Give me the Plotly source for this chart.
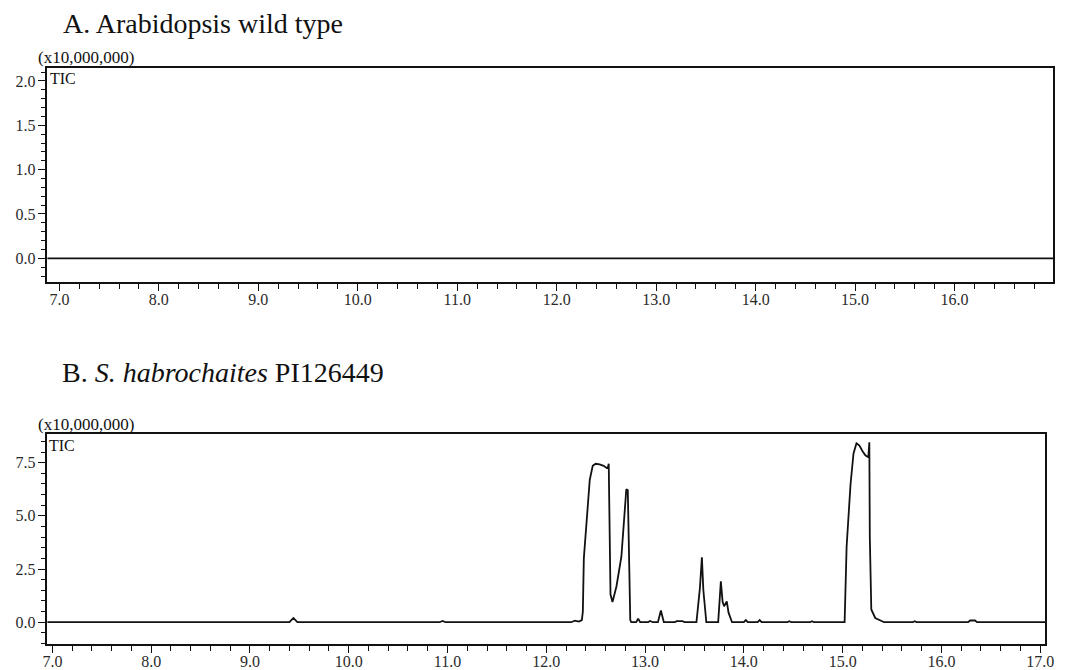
import plotly.graph_objects as go

W, H = 1066, 670

# Panel A: wild type TIC trace (flat baseline)
wt_rt = [6.8, 17.1]
wt_tic = [0.0, 0.0]

# Panel B: S. habrochaites PI126449 TIC trace (retention time, min; intensity x1e7)
sh_rt = [
    6.8, 9.40, 9.44, 9.48, 10.92, 10.95, 10.98,
    12.25, 12.29, 12.33, 12.36, 12.37, 12.38, 12.41, 12.44, 12.47, 12.50,
    12.54, 12.58, 12.61, 12.625, 12.632, 12.64, 12.65, 12.67, 12.71, 12.76,
    12.79, 12.81, 12.825, 12.84, 12.85, 12.86,
    12.91, 12.93, 12.95, 13.03, 13.05, 13.08, 13.13, 13.16, 13.19,
    13.30, 13.32, 13.38, 13.40,
    13.52, 13.555, 13.575, 13.59, 13.62,
    13.74, 13.767, 13.785, 13.80, 13.827, 13.845, 13.88,
    14.00, 14.02, 14.04, 14.14, 14.16, 14.18, 14.44, 14.46, 14.48,
    14.67, 14.69, 14.71,
    15.02, 15.04, 15.08, 15.11, 15.14, 15.17, 15.20, 15.23, 15.26, 15.27,
    15.275, 15.285, 15.29, 15.33, 15.39, 15.42,
    15.71, 15.73, 15.75, 16.27, 16.29, 16.34, 16.36, 17.1,
]
sh_tic = [
    0.0, 0.0, 0.2, 0.0, 0.0, 0.06, 0.0,
    0.0, 0.07, 0.03, 0.1, 0.5, 3.0, 5.1, 6.7, 7.35, 7.45,
    7.42, 7.35, 7.25, 7.3, 7.45, 4.0, 1.3, 0.95, 1.68, 3.08,
    5.1, 6.25, 6.2, 3.0, 0.1, 0.0,
    0.0, 0.17, 0.0, 0.0, 0.06, 0.0, 0.0, 0.55, 0.0,
    0.0, 0.05, 0.05, 0.0,
    0.0, 1.6, 3.05, 1.5, 0.0,
    0.0, 1.92, 0.95, 0.75, 0.98, 0.45, 0.0,
    0.0, 0.1, 0.0, 0.0, 0.1, 0.0, 0.0, 0.05, 0.0,
    0.0, 0.05, 0.0,
    0.0, 3.55, 6.5, 7.93, 8.41, 8.3, 8.05, 7.85, 7.75, 8.46,
    4.0, 1.0, 0.6, 0.2, 0.05, 0.0,
    0.0, 0.05, 0.0, 0.0, 0.08, 0.08, 0.0, 0.0,
]

FONT = "Liberation Serif"
INK = "#111111"
TICK_INK = "#2a2a2a"

fig = go.Figure()
fig.add_trace(go.Scatter(x=wt_rt, y=wt_tic, mode="lines",
                         line=dict(color=INK, width=1.8),
                         xaxis="x", yaxis="y", showlegend=False))
fig.add_trace(go.Scatter(x=sh_rt, y=sh_tic, mode="lines",
                         line=dict(color=INK, width=1.8),
                         xaxis="x2", yaxis="y2", showlegend=False))


def px_x(p):
    return p / W


def px_y(p):
    return 1 - p / H


def xaxis_style(domain, rng, anchor):
    return dict(
        domain=domain, range=rng, anchor=anchor,
        tickmode="linear", tick0=0, dtick=1.0, tickformat=".1f",
        ticks="outside", ticklen=7, tickwidth=1.3, tickcolor=INK,
        minor=dict(dtick=0.2, tick0=0, ticks="outside", ticklen=5,
                   tickwidth=1.3, tickcolor=INK, showgrid=False),
        showline=True, linecolor=INK, linewidth=1.6, mirror=True,
        showgrid=False, zeroline=False,
        ticklabelstandoff=-5,
        tickfont=dict(family=FONT, size=16, color=TICK_INK),
        fixedrange=True,
    )


def yaxis_style(domain, rng, anchor, dtick, minor_dtick):
    return dict(
        domain=domain, range=rng, anchor=anchor,
        tickmode="linear", tick0=0, dtick=dtick, tickformat=".1f",
        ticks="outside", ticklen=8, tickwidth=1.3, tickcolor=INK,
        minor=dict(dtick=minor_dtick, tick0=0, ticks="outside", ticklen=5,
                   tickwidth=1.3, tickcolor=INK, showgrid=False),
        showline=True, linecolor=INK, linewidth=1.6, mirror=True,
        showgrid=False, zeroline=False,
        ticklabelstandoff=-1,
        tickfont=dict(family=FONT, size=16, color=TICK_INK),
        fixedrange=True,
    )


fig.update_layout(
    width=W, height=H,
    margin=dict(l=0, r=0, t=0, b=0),
    paper_bgcolor="white", plot_bgcolor="white",
    xaxis=xaxis_style([px_x(43), px_x(1062)], [6.88, 16.99], "y"),
    yaxis=yaxis_style([px_y(284), px_y(68)], [-0.27, 2.15], "x", 0.5, 0.1),
    xaxis2=xaxis_style([px_x(43), px_x(1054)], [6.95, 17.05], "y2"),
    yaxis2=yaxis_style([px_y(648), px_y(437)], [-1.03, 8.83], "x2", 2.5, 0.5),
)

annotations = [
    dict(text="A. Arabidopsis wild type", x=px_x(57), y=px_y(24), size=28),
    dict(text="B. <i>S. habrochaites</i> PI126449", x=px_x(56), y=px_y(375), size=28),
    dict(text="(x10,000,000)", x=px_x(31), y=px_y(58), size=17),
    dict(text="TIC", x=px_x(44), y=px_y(79), size=16),
    dict(text="(x10,000,000)", x=px_x(31), y=px_y(427), size=17),
    dict(text="TIC", x=px_x(43), y=px_y(448), size=16),
]
for a in annotations:
    fig.add_annotation(
        text=a["text"], x=a["x"], y=a["y"], xref="paper", yref="paper",
        xanchor="left", yanchor="middle", showarrow=False,
        font=dict(family=FONT, size=a["size"], color=INK),
    )

fig.write_html("out.html")
